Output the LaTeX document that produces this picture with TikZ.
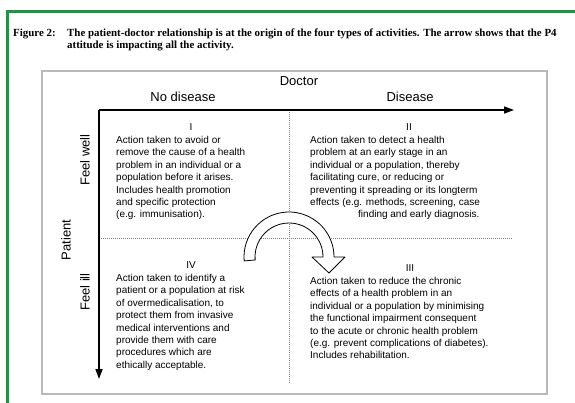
\documentclass[tikz,border=0pt]{standalone}
\usepackage{fontspec}
\setmainfont{Liberation Serif}
\setsansfont{Liberation Sans}
\usetikzlibrary{arrows.meta,positioning}
\definecolor{framegreen}{RGB}{46,139,74}
\definecolor{boxgrey}{RGB}{185,185,185}

\begin{document}
\begin{tikzpicture}[x=1pt, y=-1pt,
  axis/.style={line width=1.6pt, -{Triangle[length=10pt,width=7pt]}},
  divider/.style={gray, line width=0.5pt, dash pattern=on 1pt off 1pt},
  axislabel/.style={font=\sffamily\fontsize{13}{15}\selectfont, inner sep=0pt},
  numeral/.style={font=\sffamily\fontsize{10}{12}\selectfont, inner sep=0pt},
  quadtext/.style={font=\sffamily\fontsize{10}{12.4}\selectfont, align=left, inner sep=0pt, anchor=north west},
  captiontext/.style={font=\bfseries\fontsize{10.9}{12}\selectfont, align=left, inner sep=0pt, anchor=north west},
  turnarrow/.style={draw, fill=white, line width=0.8pt, line join=round}]
\useasboundingbox (0,0) rectangle (575,403);
\draw[framegreen, line width=3pt] (7.5,403) -- (7.5,11.5) -- (575,11.5);
%
\node[captiontext] (fig) at (13,29) {Figure 2:};
\node[captiontext] (figtext) at (67,29) {The patient-doctor relationship is at the origin of the four types of activities. The arrow shows that the P4\\ attitude is impacting all the activity.};
\draw[boxgrey, line width=1.1pt] (42,71) rectangle (547,394);
%
\coordinate (origin) at (99,110);
\coordinate (doctorend) at (514,110);
\coordinate (patientend) at (99,379);
\coordinate (midtop) at (289,110);
\coordinate (midbot) at (289,383);
\coordinate (midleft) at (99,238);
\coordinate (midright) at (512,238);
\draw[divider] (midtop) -- (midbot);
\draw[divider] (midleft) -- (midright);
\draw[axis] (origin) -- (doctorend);
\draw[axis] (origin) -- (patientend);
%
\node[axislabel] (doctor) at (299,81) {Doctor};
\node[axislabel] (nodisease) at (183,97) {No disease};
\node[axislabel] (disease) at (410,97) {Disease};
\node[axislabel, rotate=90] (feelwell) at (85,160) {Feel well};
\node[axislabel, rotate=90] (patient) at (66,240) {Patient};
\node[axislabel, rotate=90] (feelill) at (85,292) {Feel ill};
%
\node[numeral] (n1) at (191,127) {I};
\node[quadtext] (q1) at (116,136) {Action taken to avoid or\\ remove the cause of a health\\ problem in an individual or a\\ population before it arises.\\ Includes health promotion\\ and specific protection\\ (e.g. immunisation).};
\node[numeral] (n2) at (409,127) {II};
\node[quadtext] (q2) at (310,136) {Action taken to detect a health\\ problem at an early stage in an\\ individual or a population, thereby\\ facilitating cure, or reducing or\\ preventing it spreading or its longterm\\ effects (e.g. methods, screening, case\\ \hspace*{48pt}finding and early diagnosis.};
\node[numeral] (n3) at (410,268) {III};
\node[quadtext] (q3) at (310,277) {Action taken to reduce the chronic\\ effects of a health problem in an\\ individual or a population by minimising\\ the functional impairment consequent\\ to the acute or chronic health problem\\ (e.g. prevent complications of diabetes).\\ Includes rehabilitation.};
\node[numeral] (n4) at (191,265) {IV};
\node[quadtext] (q4) at (116,274) {Action taken to identify a\\ patient or a population at risk\\ of overmedicalisation, to\\ protect them from invasive\\ medical interventions and\\ provide them with care\\ procedures which are\\ ethically acceptable.};
%
\coordinate (turn) at (289,257);
\draw[turnarrow] ([shift={(185:45pt)}]turn) arc[start angle=185, end angle=0, radius=45pt]
  -- ++(11pt,0pt) -- ([shift={(40pt,-16pt)}]turn) -- ([shift={(23pt,0pt)}]turn)
  -- ++(11pt,0pt) arc[start angle=0, end angle=185, radius=34pt] -- cycle;
\end{tikzpicture}
\end{document}
